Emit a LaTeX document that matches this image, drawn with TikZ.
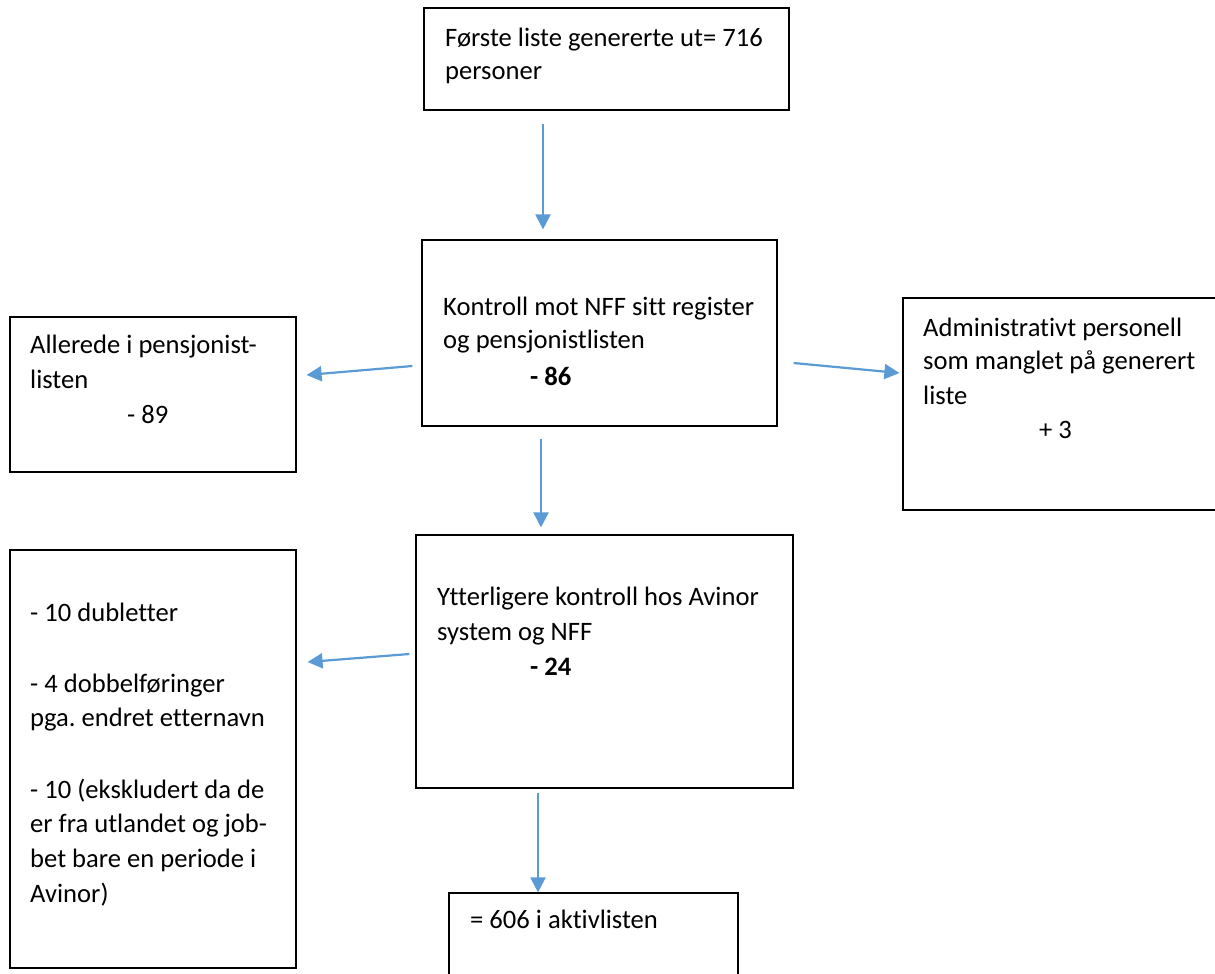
\documentclass[tikz,border=0pt]{standalone}
\usepackage{fontspec}
\setmainfont{Carlito}[Ligatures=NoCommon]
\usetikzlibrary{arrows.meta}
\definecolor{arrowblue}{HTML}{5B9BD5}
\tikzset{
  box/.style={draw=black,line width=1.2pt,inner sep=0pt,rectangle},
  txt/.style={inner sep=0pt,anchor=base west,font=\fontsize{26.6}{32}\selectfont},
  btxt/.style={txt,font=\fontsize{26.6}{32}\selectfont\bfseries},
  arr/.style={draw=arrowblue,line width=2.2pt,-{Triangle[length=15pt,width=15pt]}}
}
\frenchspacing
\begin{document}
\begin{tikzpicture}[x=1pt,y=-1pt]
\useasboundingbox (0,0) rectangle (1215,974);
\fill[white] (0,0) rectangle (1215,974);
% boxes (centre, width, height)
\node[box,minimum width=365pt,minimum height=102pt] (top) at (606.5,59) {};
\node[box,minimum width=355pt,minimum height=186pt] (mid) at (599.5,333) {};
\node[box,minimum width=286pt,minimum height=155pt] (left1) at (153,394.5) {};
\node[box,minimum width=322pt,minimum height=212pt] (right) at (1064,404) {};
\node[box,minimum width=377pt,minimum height=253pt] (ytter) at (604.5,661.5) {};
\node[box,minimum width=286pt,minimum height=418pt] (left2) at (153,759) {};
\node[box,minimum width=289pt,minimum height=110pt] (bottom) at (593.5,948) {};
% texts
\node[txt] (t1) at (445,47) {Første liste genererte ut= 716};
\node[txt] (t2) at (445,79) {personer};
\node[txt] (m1) at (443,315) {Kontroll mot NFF sitt register};
\node[txt] (m2) at (443,348) {og pensjonistlisten};
\node[btxt] (m3) at (530,385) {- 86};
\node[txt] (a1) at (30,353) {Allerede i pensjonist-};
\node[txt] (a2) at (30,388) {listen};
\node[txt] (a3) at (127,423) {- 89};
\node[txt] (r1) at (923,336) {Administrativt personell};
\node[txt] (r2) at (923,369) {som manglet på generert};
\node[txt] (r3) at (923,404) {liste};
\node[txt] (r4) at (1039,438) {+ 3};
\node[txt] (y1) at (437,605) {Ytterligere kontroll hos Avinor};
\node[txt] (y2) at (437,640) {system og NFF};
\node[btxt] (y3) at (530,675) {- 24};
\node[txt] (l1) at (30,621) {- 10 dubletter};
\node[txt] (l2) at (30,692) {- 4 dobbelføringer};
\node[txt] (l3) at (30,726) {pga. endret etternavn};
\node[txt] (l4) at (30,798) {- 10 (ekskludert da de};
\node[txt] (l5) at (30,832) {er fra utlandet og job-};
\node[txt] (l6) at (30,867) {bet bare en periode i};
\node[txt] (l7) at (30,902) {Avinor)};
\node[txt] (b1) at (470,928) {= 606 i aktivlisten};
% connectors
\draw[arr] ([shift={(-63.5,13)}]top.south) -- ([shift={(-56.5,-10)}]mid.north);
\draw[arr] ([shift={(-9,33)}]mid.west) -- ([shift={(10,-19.5)}]left1.east);
\draw[arr] ([shift={(16,30)}]mid.east) -- ([shift={(-3,-31)}]right.west);
\draw[arr] ([shift={(-58.5,12)}]mid.south) -- ([shift={(-63.5,-7)}]ytter.north);
\draw[arr] ([shift={(-6,-7.5)}]ytter.west) -- ([shift={(11,-97)}]left2.east);
\draw[arr] ([shift={(-66.5,4)}]ytter.south) -- ([shift={(-55.5,0)}]bottom.north);
\end{tikzpicture}
\end{document}
